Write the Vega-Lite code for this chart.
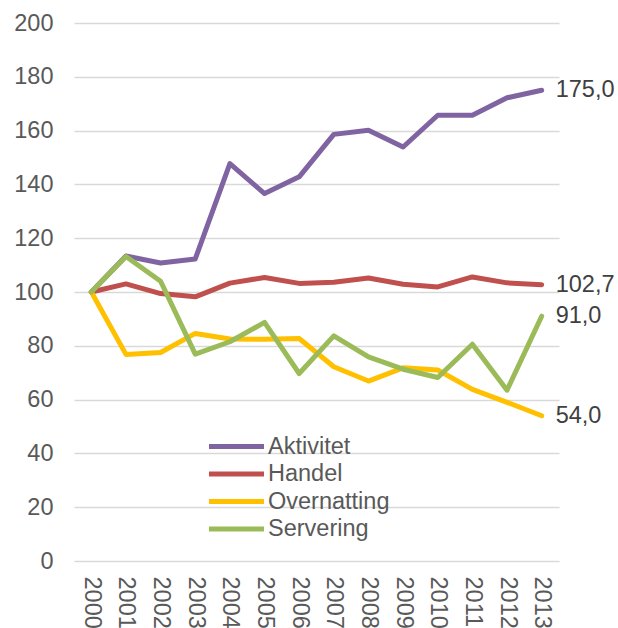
{
  "$schema": "https://vega.github.io/schema/vega-lite/v6.json",
  "width": 485,
  "height": 538,
  "autosize": {"type": "none"},
  "padding": {"left": 74, "top": 23, "right": 59, "bottom": 67},
  "config": {
    "locale": {"number": {"decimal": ",", "thousands": " ", "grouping": [3], "currency": ["", " kr"]}},
    "view": {"stroke": null},
    "font": "Liberation Sans"
  },
  "data": {
    "values": [
      {"year": "2000", "series": "Aktivitet", "value": 100},
      {"year": "2001", "series": "Aktivitet", "value": 113.4},
      {"year": "2002", "series": "Aktivitet", "value": 110.8},
      {"year": "2003", "series": "Aktivitet", "value": 112.3},
      {"year": "2004", "series": "Aktivitet", "value": 147.7},
      {"year": "2005", "series": "Aktivitet", "value": 136.6},
      {"year": "2006", "series": "Aktivitet", "value": 142.8},
      {"year": "2007", "series": "Aktivitet", "value": 158.6},
      {"year": "2008", "series": "Aktivitet", "value": 160.1},
      {"year": "2009", "series": "Aktivitet", "value": 153.9},
      {"year": "2010", "series": "Aktivitet", "value": 165.7},
      {"year": "2011", "series": "Aktivitet", "value": 165.7},
      {"year": "2012", "series": "Aktivitet", "value": 172.2},
      {"year": "2013", "series": "Aktivitet", "value": 175.0},
      {"year": "2000", "series": "Handel", "value": 100},
      {"year": "2001", "series": "Handel", "value": 103.0},
      {"year": "2002", "series": "Handel", "value": 99.4},
      {"year": "2003", "series": "Handel", "value": 98.2},
      {"year": "2004", "series": "Handel", "value": 103.3},
      {"year": "2005", "series": "Handel", "value": 105.4},
      {"year": "2006", "series": "Handel", "value": 103.2},
      {"year": "2007", "series": "Handel", "value": 103.6},
      {"year": "2008", "series": "Handel", "value": 105.2},
      {"year": "2009", "series": "Handel", "value": 102.9},
      {"year": "2010", "series": "Handel", "value": 101.9},
      {"year": "2011", "series": "Handel", "value": 105.6},
      {"year": "2012", "series": "Handel", "value": 103.4},
      {"year": "2013", "series": "Handel", "value": 102.7},
      {"year": "2000", "series": "Overnatting", "value": 100},
      {"year": "2001", "series": "Overnatting", "value": 76.8},
      {"year": "2002", "series": "Overnatting", "value": 77.5},
      {"year": "2003", "series": "Overnatting", "value": 84.6},
      {"year": "2004", "series": "Overnatting", "value": 82.5},
      {"year": "2005", "series": "Overnatting", "value": 82.4},
      {"year": "2006", "series": "Overnatting", "value": 82.7},
      {"year": "2007", "series": "Overnatting", "value": 72.2},
      {"year": "2008", "series": "Overnatting", "value": 66.9},
      {"year": "2009", "series": "Overnatting", "value": 71.8},
      {"year": "2010", "series": "Overnatting", "value": 71.0},
      {"year": "2011", "series": "Overnatting", "value": 63.8},
      {"year": "2012", "series": "Overnatting", "value": 59.0},
      {"year": "2013", "series": "Overnatting", "value": 54.0},
      {"year": "2000", "series": "Servering", "value": 100},
      {"year": "2001", "series": "Servering", "value": 113.2},
      {"year": "2002", "series": "Servering", "value": 104.0},
      {"year": "2003", "series": "Servering", "value": 76.9},
      {"year": "2004", "series": "Servering", "value": 81.5},
      {"year": "2005", "series": "Servering", "value": 88.7},
      {"year": "2006", "series": "Servering", "value": 69.7},
      {"year": "2007", "series": "Servering", "value": 83.7},
      {"year": "2008", "series": "Servering", "value": 75.9},
      {"year": "2009", "series": "Servering", "value": 71.3},
      {"year": "2010", "series": "Servering", "value": 68.2},
      {"year": "2011", "series": "Servering", "value": 80.6},
      {"year": "2012", "series": "Servering", "value": 63.5},
      {"year": "2013", "series": "Servering", "value": 91.0}
    ]
  },
  "encoding": {
    "x": {
      "field": "year", "type": "ordinal",
      "scale": {"type": "point", "padding": 0.5},
      "axis": {
        "title": null, "labelAngle": 90, "labelAlign": "left", "labelBaseline": "middle",
        "labelFontSize": 23.5, "labelColor": "#595959", "labelPadding": 15,
        "ticks": false, "domain": false, "grid": false
      }
    },
    "y": {
      "field": "value", "type": "quantitative",
      "scale": {"domain": [0, 200], "nice": false, "zero": true},
      "axis": {
        "title": null, "values": [0, 20, 40, 60, 80, 100, 120, 140, 160, 180, 200],
        "labelFontSize": 23.5, "labelColor": "#595959", "labelPadding": 21,
        "ticks": false, "domain": false, "grid": true, "gridColor": "#d9d9d9", "gridWidth": 1.5
      }
    },
    "color": {
      "field": "series", "type": "nominal",
      "scale": {"domain": ["Aktivitet", "Handel", "Overnatting", "Servering"], "range": ["#8064A2", "#C0504D", "#FFC000", "#9BBB59"]},
      "legend": {
        "title": null, "orient": "none", "legendX": 149, "legendY": 410,
        "symbolType": "M-2.5,0H2.5", "symbolStrokeWidth": 5, "symbolSize": 484,
        "labelFontSize": 23.5, "labelColor": "#595959", "labelOffset": 18, "rowPadding": 2.5
      }
    }
  },
  "layer": [
    {"mark": {"type": "line", "strokeWidth": 5, "strokeJoin": "round", "strokeCap": "round"}},
    {
      "transform": [{"filter": "datum.year == '2013'"}],
      "mark": {"type": "text", "align": "left", "baseline": "middle", "dx": 14, "fontSize": 23.5},
      "encoding": {
        "text": {"field": "value", "type": "quantitative", "format": ".1f"},
        "color": {"value": "#404040"}
      }
    }
  ]
}
